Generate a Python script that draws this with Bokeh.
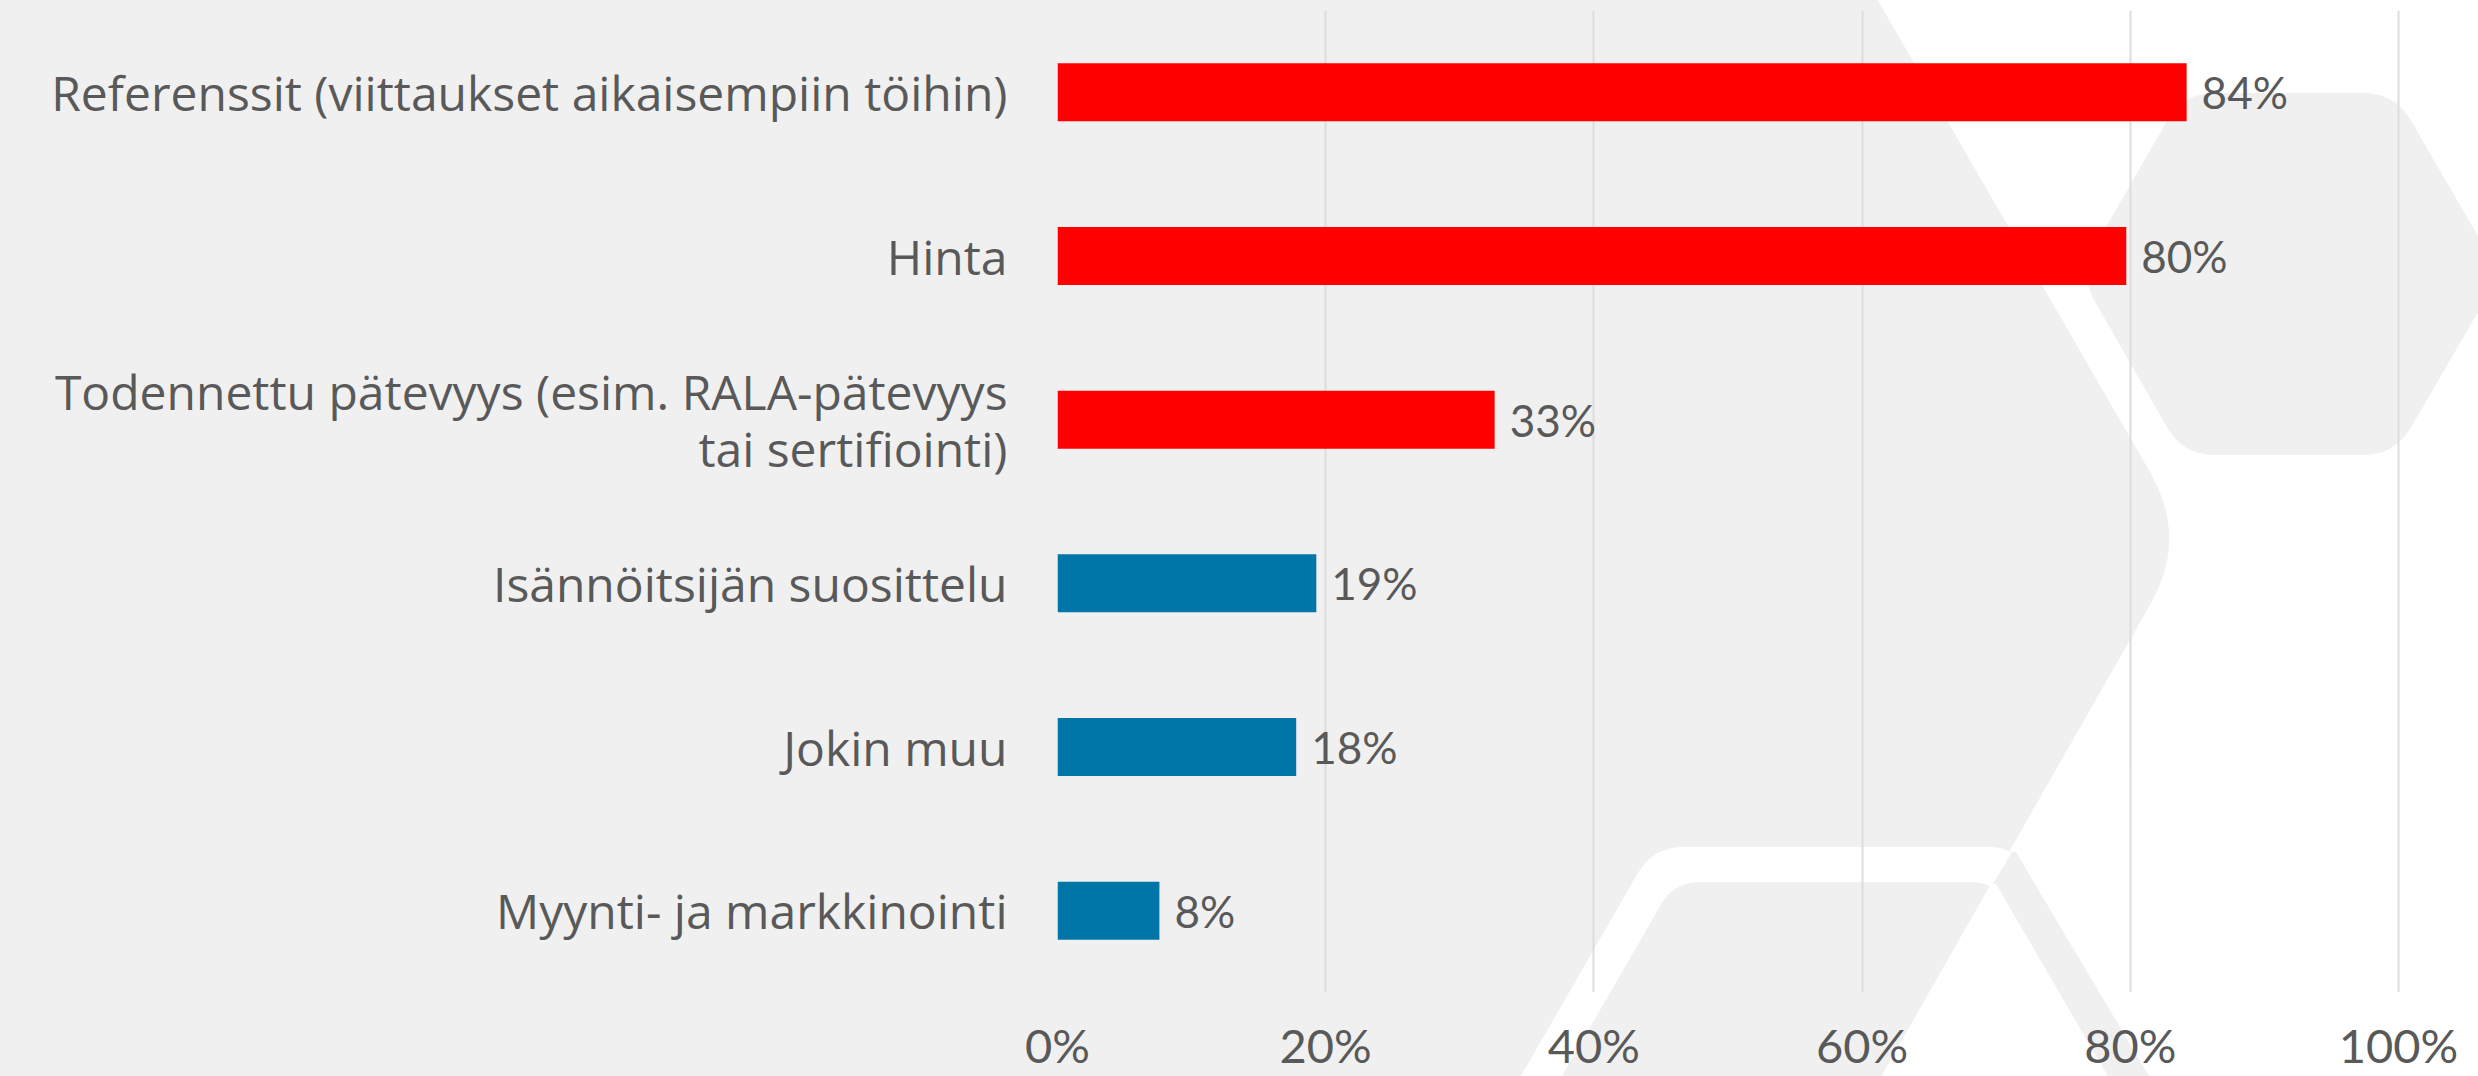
import base64
import numpy as np
from bokeh.plotting import figure
from bokeh.models import (FactorRange, Range1d, FixedTicker, PrintfTickFormatter, ColumnDataSource)
from bokeh.core.properties import value
from bokeh.embed import file_html
from bokeh.resources import INLINE

# ---------------- data ----------------
categories = [
    "Referenssit (viittaukset aikaisempiin töihin)",
    "Hinta",
    "Todennettu pätevyys (esim. RALA-pätevyys\ntai sertifiointi)",
    "Isännöitsijän suosittelu",
    "Jokin muu",
    "Myynti- ja markkinointi",
]
shares = [84.2, 79.7, 32.6, 19.3, 17.8, 7.6]
share_labels = ["84%", "80%", "33%", "19%", "18%", "8%"]
x_ticks = [0, 20, 40, 60, 80, 100]
bar_colors = ["#ff0000", "#ff0000", "#ff0000", "#0076a8", "#0076a8", "#0076a8"]

# ---------------- layout ----------------
W, H = 2478, 1076
FONT = "Lato"
LABEL_FONT = "Open Sans"
TXT = "#595959"
BG = "#f0f0f0"

# frame (page px): left 1057, top 10, bottom 992, right 2470 ; 100% at 2398
FL, FT, FB, FR, X100 = 1057, 10, 992, 2470, 2398
x_end = 100.0 * (FR - FL) / (X100 - FL)

source = ColumnDataSource(dict(cat=categories, share=shares, label=share_labels, color=bar_colors))

p = figure(width=W, height=H, output_backend="svg", toolbar_location=None,
           y_range=FactorRange(factors=list(reversed(categories))),
           x_range=Range1d(0, x_end),
           min_border_left=FL, min_border_top=FT, min_border_bottom=H - FB,
           min_border_right=W - FR)
p.background_fill_alpha = 0
p.border_fill_alpha = 0
p.outline_line_color = None

# ---------------- decorative background hexagons (page px), drawn as the plot's CSS background ----------------
def rounded(pts, d, n=10):
    out = []
    m = len(pts)
    for i in range(m):
        V = np.array(pts[i], float)
        di = d[i] if isinstance(d, (list, tuple)) else d
        if di <= 0:
            out.append(V)
            continue
        P = np.array(pts[i - 1], float)
        N = np.array(pts[(i + 1) % m], float)
        a = V + di * (P - V) / np.linalg.norm(P - V)
        b = V + di * (N - V) / np.linalg.norm(N - V)
        for t in np.linspace(0, 1, n):
            out.append((1 - t) ** 2 * a + 2 * (1 - t) * t * V + t ** 2 * b)
    return out

def path(pts, color):
    d = "M " + " L ".join(f"{float(q[0]):.1f},{float(q[1]):.1f}" for q in pts) + " Z"
    return f'<path d="{d}" fill="{color}"/>'

white_region = rounded([(1843, -60), (2188, 538), (1845, 1140), (2600, 1140), (2600, -60)],
                       [0, 75, 0, 0, 0])
right_hex = rounded([(2183, 93), (2395, 93), (2500, 274), (2395, 455), (2183, 455), (2079, 274)], 32)
band = rounded([(1484, 1140), (1653, 847), (2018, 847), (2187, 1140), (2145, 1140),
                (1996, 882), (1674, 882), (1525, 1140)], [0, 30, 30, 0, 0, 26, 26, 0])
arm = [(2012, 852), (2016, 852), (2187, 1140), (2145, 1140), (1996, 884), (1993, 884)]

svg = (f'<svg xmlns="http://www.w3.org/2000/svg" width="{W}" height="{H}" viewBox="0 0 {W} {H}">'
       f'<rect x="0" y="0" width="{W}" height="{H}" fill="{BG}"/>'
       + path(white_region, "#ffffff") + path(right_hex, BG)
       + path(band, "#ffffff") + path(arm, BG) + '</svg>')
uri = "data:image/svg+xml;base64," + base64.b64encode(svg.encode("utf-8")).decode("ascii")
p.styles = {
    "background-color": BG,
    "background-image": f'url("{uri}")',
    "background-repeat": "no-repeat",
    "background-size": f"{W}px {H}px",
}

# ---------------- bars ----------------
p.hbar(y="cat", right="share", left=0, height=0.354, color="color", line_color=None, source=source)
p.text(x="share", y="cat", text="label", source=source, x_offset=15,
       text_baseline="middle", text_align="left", text_font=value(FONT),
       text_font_size="44px", text_color=TXT)

# ---------------- axes / grid ----------------
p.xaxis.ticker = FixedTicker(ticks=x_ticks)
p.xaxis.formatter = PrintfTickFormatter(format="%d%%")
p.xaxis.axis_line_color = None
p.xaxis.major_tick_line_color = None
p.xaxis.minor_tick_line_color = None
p.xaxis.major_label_text_font = FONT
p.xaxis.major_label_text_font_size = "47px"
p.xaxis.major_label_text_color = TXT
p.xaxis.major_label_standoff = 18

p.yaxis.axis_line_color = None
p.yaxis.major_tick_line_color = None
p.yaxis.minor_tick_line_color = None
p.yaxis.major_label_text_font = LABEL_FONT
p.yaxis.major_label_text_font_size = "48px"
p.yaxis.major_label_text_color = TXT
p.yaxis.major_label_text_line_height = 0.88
p.yaxis.major_label_text_align = "center"
p.yaxis.major_label_standoff = 44

p.xgrid.ticker = FixedTicker(ticks=x_ticks)
p.xgrid.grid_line_color = "#dcdcdc"
p.xgrid.grid_line_width = 2
p.ygrid.grid_line_color = None

template = '{% block preamble %}<style>body{background:#f0f0f0;}</style>{% endblock %}'
open("out.html", "w").write(file_html(p, INLINE, title="chart", template=template))
